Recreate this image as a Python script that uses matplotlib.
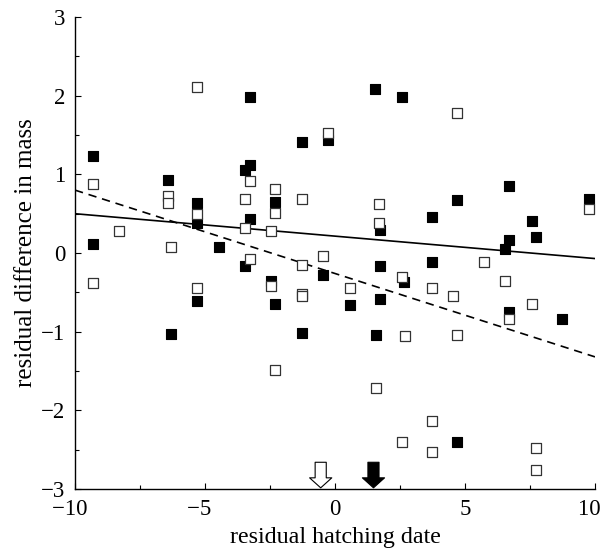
import matplotlib
matplotlib.use('Agg')
import matplotlib.pyplot as plt
from matplotlib.ticker import MultipleLocator
import numpy as np

plt.rcParams['font.family'] = ['Liberation Serif', 'DejaVu Serif']

# filled squares
filled_x = [-9.30, -9.30, -6.44, -6.31, -5.29, -5.29, -5.29, -4.46, -3.27, -3.27,
            -3.46, -3.27, -3.46, -2.31, -2.47, -2.30, -1.26, -1.26, -0.28, -0.45,
            0.58, 1.55, 1.73, 1.73, 1.73, 1.56, 2.58, 2.65, 3.73, 3.73,
            4.70, 4.70, 6.70, 6.70, 6.55, 6.70, 7.58, 7.73, 8.72, 9.76]
filled_y = [1.23, 0.12, 0.93, -1.03, 0.64, 0.385, -0.61, 0.08, 1.99, 1.12,
            1.05, 0.43, -0.17, 0.65, -0.35, -0.65, 1.41, -1.02, 1.44, -0.28,
            -0.66, 2.08, 0.29, -0.165, -0.58, -1.04, 1.99, -0.365, 0.46, -0.11,
            0.67, -2.40, 0.85, 0.165, 0.05, -0.75, 0.41, 0.20, -0.84, 0.69]

# open squares
open_x = [-9.30, -9.30, -8.31, -6.41, -6.41, -6.31, -5.29, -5.29, -5.29, -3.27,
          -3.46, -3.46, -3.27, -2.31, -2.31, -2.47, -2.47, -2.30, -1.26, -1.26,
          -1.26, -1.26, -0.28, -0.45, 0.58, 1.71, 1.71, 1.58, 2.56, 2.69,
          3.73, 3.73, 3.73, 2.56, 4.70, 4.55, 4.70, 5.73, 6.55, 6.70,
          7.58, 7.73, 7.73, 9.76]
open_y = [0.88, -0.38, 0.28, 0.72, 0.63, 0.08, 2.11, 0.50, -0.45, 0.91,
          0.69, 0.32, -0.08, 0.82, 0.51, 0.28, -0.42, -1.49, 0.69, -0.15,
          -0.52, -0.55, 1.53, -0.04, -0.45, 0.62, 0.385, -1.72, -0.30, -1.06,
          -0.45, -2.14, -2.53, -2.40, 1.78, -0.55, -1.04, -0.11, -0.35, -0.84,
          -0.65, -2.48, -2.76, 0.555]

# regression lines (intercept, slope)
solid_fit = (0.215, -0.0285)
dashed_fit = (-0.26, -0.106)

# arrows marking mean hatching dates
open_arrow_x = -0.55
filled_arrow_x = 1.48


def minus_fmt(v, p):
    return '%d' % v if v >= 0 else '\u2212%d' % -v


def minus_fmt_x(v, p):
    # digits centred on the tick, minus sign hangs to the left;
    # the last label sits a little left so it stays inside the figure
    if v < 0:
        return '\u2212%d\u2002' % -v
    if v >= 10:
        return '%d\u2002' % v
    return '%d' % v


fig = plt.figure(figsize=(6.01, 5.51), dpi=100)
ax = fig.add_axes([0.1248, 0.1125, 0.8652, 0.8565])

xs = np.array([-10, 10])
ax.plot(xs, solid_fit[0] + solid_fit[1] * xs, color='black', lw=1.2, zorder=2)
ax.plot(xs, dashed_fit[0] + dashed_fit[1] * xs, color='black', lw=1.2,
        dashes=(5, 3.5), zorder=2)

ax.scatter(filled_x, filled_y, marker='s', s=62, facecolor='black',
           edgecolor='black', linewidth=0.8, zorder=3)
ax.scatter(open_x, open_y, marker='s', s=62, facecolor='white',
           edgecolor='#333333', linewidth=0.9, zorder=4)

for ax_x, fc in [(open_arrow_x, 'white'), (filled_arrow_x, 'black')]:
    ax.annotate('', xy=(ax_x, -2.985), xytext=(ax_x, -2.66),
                arrowprops=dict(arrowstyle='simple,head_length=0.45,head_width=1.0,tail_width=0.5',
                                fc=fc, ec='black', lw=0.8, mutation_scale=16,
                                shrinkA=0, shrinkB=0), zorder=5)

ax.set_xlim(-10, 10)
ax.set_ylim(-3, 3)
ax.xaxis.set_major_locator(MultipleLocator(5))
ax.xaxis.set_minor_locator(MultipleLocator(2.5))
ax.yaxis.set_major_locator(MultipleLocator(1))
ax.yaxis.set_minor_locator(MultipleLocator(0.5))
ax.xaxis.set_major_formatter(plt.FuncFormatter(minus_fmt_x))
ax.yaxis.set_major_formatter(plt.FuncFormatter(minus_fmt))

for s in ['top', 'right']:
    ax.spines[s].set_visible(False)
for s in ['left', 'bottom']:
    ax.spines[s].set_linewidth(1.0)

ax.tick_params(which='major', direction='in', length=4, width=0.8,
               labelsize=16.5, pad=7)
ax.tick_params(which='minor', direction='in', length=3, width=0.8)

ax.set_xlabel('residual hatching date', fontsize=17.3, labelpad=5)
ax.set_ylabel('residual difference in mass', fontsize=18, labelpad=3)

fig.savefig('out.png', dpi=100)
